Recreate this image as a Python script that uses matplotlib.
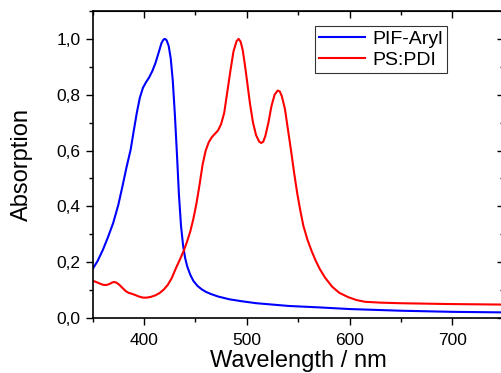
import numpy as np
import matplotlib.pyplot as plt
from matplotlib.ticker import MultipleLocator, FuncFormatter

plt.rcParams['font.family'] = ['Liberation Sans', 'DejaVu Sans']

# PIF-Aryl (blue)
wl_pif = [348, 355, 360, 365, 370, 375, 379, 383, 387, 390, 393, 396, 399, 402,
          405, 408, 411, 414, 417, 419, 420.5, 422, 424, 426, 428, 430, 432,
          434, 436, 438, 440, 442, 445, 448, 452, 456, 460, 465, 472, 483, 495,
          509, 525, 541, 570, 600, 650, 700, 750]
abs_pif = [0.163, 0.205, 0.244, 0.29, 0.34, 0.405, 0.471, 0.54, 0.603, 0.67,
           0.735, 0.79, 0.825, 0.845, 0.862, 0.884, 0.912, 0.948, 0.985, 0.998,
           1.0, 0.995, 0.975, 0.93, 0.85, 0.73, 0.59, 0.44, 0.33, 0.26, 0.215,
           0.185, 0.155, 0.133, 0.115, 0.103, 0.094, 0.086, 0.077, 0.067, 0.06,
           0.053, 0.048, 0.043, 0.038, 0.032, 0.026, 0.022, 0.02]

# PS:PDI (red)
wl_pdi = [348, 352, 356, 360, 363, 366, 369, 371, 373, 376, 379, 382, 385, 388,
          391, 395, 399, 403, 407, 411, 415, 419, 423, 427, 431, 435, 439, 442,
          445, 448, 451, 454, 457, 460, 463, 466, 469, 472, 475, 478, 481, 484,
          487, 490, 492, 494, 496, 498, 500, 503, 506, 509, 512, 514, 516, 518,
          521, 524, 527, 530, 532, 534, 537, 540, 543, 546, 549, 552, 555, 559,
          563, 567, 571, 576, 583, 590, 599, 607, 615, 630, 648, 696, 750]
abs_pdi = [0.136, 0.131, 0.125, 0.119, 0.118, 0.121, 0.127, 0.129, 0.127, 0.119,
           0.108, 0.097, 0.09, 0.087, 0.083, 0.077, 0.073, 0.073, 0.076, 0.081,
           0.089, 0.101, 0.118, 0.143, 0.178, 0.21, 0.244, 0.275, 0.31, 0.355,
           0.41, 0.477, 0.55, 0.6, 0.63, 0.648, 0.66, 0.672, 0.695, 0.735, 0.81,
           0.885, 0.955, 0.992, 1.0, 0.99, 0.96, 0.91, 0.855, 0.77, 0.7, 0.655,
           0.632, 0.627, 0.632, 0.652, 0.7, 0.76, 0.8, 0.815, 0.812, 0.795, 0.75,
           0.675, 0.6, 0.52, 0.447, 0.385, 0.33, 0.28, 0.24, 0.205, 0.175, 0.145,
           0.112, 0.09, 0.074, 0.064, 0.058, 0.055, 0.053, 0.05, 0.048]

fig = plt.figure(figsize=(5.01, 3.73), dpi=100)
ax = fig.add_axes([0.1848, 0.1475, 0.821, 0.823])

ax.plot(wl_pif, abs_pif, color='#0000ff', lw=1.5, label='PIF-Aryl')
ax.plot(wl_pdi, abs_pdi, color='#ff0000', lw=1.5, label='PS:PDI')

ax.set_xlim(350, 750)
ax.set_ylim(0, 1.1)
ax.xaxis.set_major_locator(MultipleLocator(100))
ax.xaxis.set_minor_locator(MultipleLocator(50))
ax.yaxis.set_major_locator(MultipleLocator(0.2))
ax.yaxis.set_minor_locator(MultipleLocator(0.1))
ax.yaxis.set_major_formatter(FuncFormatter(lambda v, p: f"{v:.1f}".replace('.', ',')))
ax.tick_params(which='major', direction='out', length=5, width=1, labelsize=12.5)
ax.tick_params(axis='x', which='major', pad=6)
ax.tick_params(which='minor', direction='out', length=3, width=1)
for s in ax.spines.values():
    s.set_linewidth(1.2)

top = ax.secondary_xaxis('top')
top.xaxis.set_major_locator(MultipleLocator(100))
top.xaxis.set_minor_locator(MultipleLocator(50))
top.tick_params(which='both', direction='in', labeltop=False, width=1)
top.tick_params(which='major', length=5)
top.tick_params(which='minor', length=3)
right = ax.secondary_yaxis('right')
right.yaxis.set_major_locator(MultipleLocator(0.2))
right.yaxis.set_minor_locator(MultipleLocator(0.1))
right.tick_params(which='both', direction='in', labelright=False, width=1)
right.tick_params(which='major', length=5)
right.tick_params(which='minor', length=3)

ax.set_xlabel('Wavelength / nm', fontsize=17, labelpad=1)
ax.set_ylabel('Absorption', fontsize=17, labelpad=17)

leg = ax.legend(loc='upper right', bbox_to_anchor=(0.8916, 0.930),
                bbox_transform=fig.transFigure, borderaxespad=0,
                fontsize=14, frameon=True, fancybox=False, handlelength=2.4,
                handletextpad=0.35, labelspacing=0.2, borderpad=0.2)
leg.get_frame().set_edgecolor('black')
leg.get_frame().set_linewidth(0.8)

fig.savefig('out.png', dpi=100)
